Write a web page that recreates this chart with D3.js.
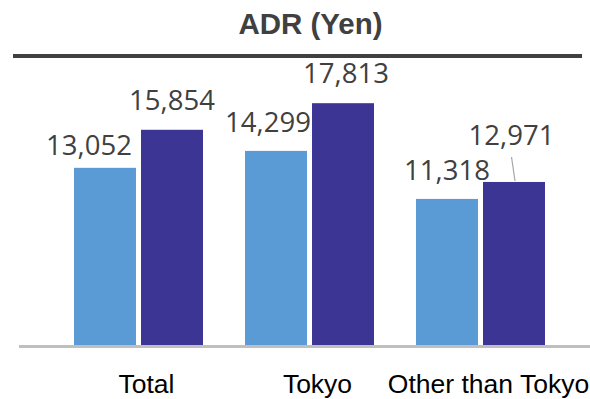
<!DOCTYPE html>
<html>
<head>
<meta charset="utf-8">
<script src="https://cdn.jsdelivr.net/npm/d3@7"></script>
<style>
  html, body { margin: 0; padding: 0; background: #fff; }
  svg { display: block; }
</style>
</head>
<body>
<svg id="chart" width="590" height="399"></svg>
<script>
// ---- data ----
const title = "ADR (Yen)";
const categories = ["Total", "Tokyo", "Other than Tokyo"];
const seriesNames = ["Prev", "Curr"];
// bar heights
const seriesPrev = [13052, 14299, 10760];
const seriesCurr = [15854, 17813, 12010];
// data label texts as shown in the picture
const labelsPrev = ["13,052", "14,299", "11,318"];
const labelsCurr = ["15,854", "17,813", "12,971"];

// ---- label nudges (layout only) ----
const nudgePrev = [[-16, 7], [-8, 1], [0, 1]];
const nudgeCurr = [[0, 0], [3, 0], [-2.5, -17]];

const colors = ["#5b9bd5", "#3d3594"];

const svg = d3.select("#chart");
const baseY = 345;

const x0 = d3.scaleBand().domain(categories).range([53, 566])
  .paddingInner(0.2456).paddingOuter(0.1228);
const x1 = d3.scaleBand().domain(seriesNames).range([0, x0.bandwidth()])
  .paddingInner(0.075).paddingOuter(0);
const y = d3.scaleLinear().domain([0, 20000]).range([baseY, baseY - 20000 * 0.013575]);

// title
svg.append("text")
  .attr("x", 310.5).attr("y", 34)
  .attr("text-anchor", "middle")
  .attr("font-family", "'Liberation Sans', Arial, sans-serif")
  .attr("font-weight", "bold")
  .attr("font-size", 29.5)
  .attr("fill", "#404040")
  .text(title);

// title rule
svg.append("rect").attr("x", 13).attr("y", 54).attr("width", 569).attr("height", 4).attr("fill", "#404040");

const rows = categories.map((c, i) => ({
  cat: c,
  vals: [
    { s: seriesNames[0], v: seriesPrev[i], label: labelsPrev[i], nudge: nudgePrev[i] },
    { s: seriesNames[1], v: seriesCurr[i], label: labelsCurr[i], nudge: nudgeCurr[i] }
  ]
}));

const g = svg.append("g");
const groups = g.selectAll("g.grp").data(rows).join("g")
  .attr("class", "grp")
  .attr("transform", d => `translate(${x0(d.cat)},0)`);

groups.selectAll("rect").data(d => d.vals).join("rect")
  .attr("x", d => x1(d.s))
  .attr("y", d => y(d.v))
  .attr("width", x1.bandwidth())
  .attr("height", d => y(0) - y(d.v))
  .attr("fill", (d, i) => colors[i]);

// leader line for the displaced label
groups.each(function (d) {
  d.vals.forEach(v => {
    if (v.nudge[1] < -10) {
      const cx = x1(v.s) + x1.bandwidth() / 2;
      d3.select(this).append("line")
        .attr("x1", cx + v.nudge[0]).attr("y1", y(v.v) - 25)
        .attr("x2", cx + 1).attr("y2", y(v.v) - 1)
        .attr("stroke", "#a6a6a6").attr("stroke-width", 1.2);
    }
  });
});

groups.selectAll("text.val").data(d => d.vals).join("text")
  .attr("class", "val")
  .attr("x", d => x1(d.s) + x1.bandwidth() / 2 + d.nudge[0])
  .attr("y", d => y(d.v) - 20 + d.nudge[1])
  .attr("text-anchor", "middle")
  .attr("font-family", "'Open Sans', sans-serif")
  .attr("font-size", 27.5)
  .attr("fill", "#404040")
  .text(d => d.label);

// baseline
svg.append("rect").attr("x", 19).attr("y", baseY).attr("width", 571).attr("height", 3).attr("fill", "#bfbfbf");

// category labels
svg.selectAll("text.cat").data(categories).join("text")
  .attr("class", "cat")
  .attr("x", d => x0(d) + x0.bandwidth() / 2 + 8)
  .attr("y", 393)
  .attr("text-anchor", "middle")
  .attr("font-family", "'Liberation Sans', Arial, sans-serif")
  .attr("font-size", 26.5)
  .attr("fill", "#000")
  .text(d => d);
</script>
</body>
</html>
